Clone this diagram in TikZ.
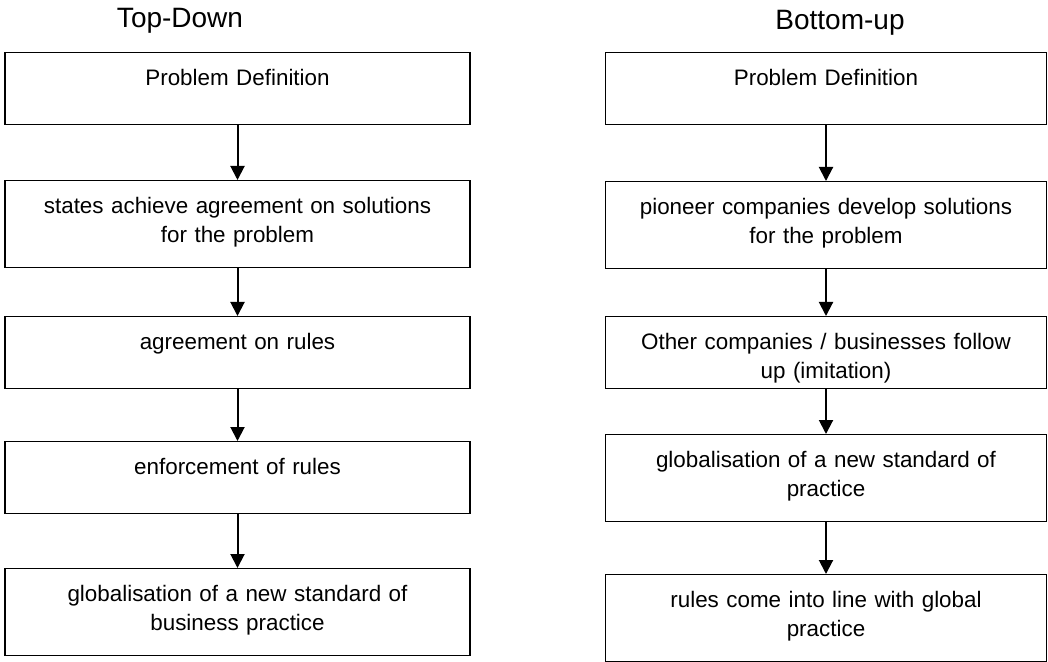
\documentclass[tikz,border=0pt]{standalone}
\usepackage{fontspec}
\setmainfont{Liberation Sans}
\usetikzlibrary{arrows.meta}

\begin{document}
\begin{tikzpicture}[x=0.5pt, y=-0.5pt,
    stage/.style={draw, line width=0.6pt, anchor=north, inner xsep=0pt, inner ysep=0pt,
      align=center, font=\fontsize{11.2}{14.5}\selectfont, text height=16.5pt, text depth=19.5pt},
    tallstage/.style={stage, text depth=27pt},
    leftcol/.style={text width=232.5pt},
    rightcol/.style={text width=220.5pt},
    flow/.style={-{Triangle[length=7pt, width=7pt]}, line width=1pt},
    heading/.style={anchor=base, font=\fontsize{14}{17}\selectfont}]
  \useasboundingbox (0,0) rectangle (1048,662);

  % top-down chain
  \node[heading] (td) at (180,28) {Top-Down};
  \node[stage, leftcol] (l1) at (237.5,52) {Problem Definition};
  \node[tallstage, leftcol] (l2) at (237.5,180) {states achieve agreement on solutions\\for the problem};
  \node[stage, leftcol] (l3) at (237.5,316) {agreement on rules};
  \node[stage, leftcol] (l4) at (237.5,441) {enforcement of rules};
  \node[tallstage, leftcol] (l5) at (237.5,568) {globalisation of a new standard of\\business practice};

  % bottom-up chain
  \node[heading] (bu) at (840,30) {Bottom-up};
  \node[stage, rightcol] (r1) at (826,52) {Problem Definition};
  \node[tallstage, rightcol] (r2) at (826,181) {pioneer companies develop solutions\\for the problem};
  \node[stage, rightcol] (r3) at (826,316) {Other companies / businesses follow\\up (imitation)};
  \node[tallstage, rightcol] (r4) at (826,434) {globalisation of a new standard of\\practice};
  \node[tallstage, rightcol] (r5) at (826,574) {rules come into line with global\\practice};

  \foreach \a/\b in {l1/l2, l2/l3, l3/l4, l4/l5, r1/r2, r2/r3, r3/r4, r4/r5}
    \draw[flow] (\a) -- (\b);
\end{tikzpicture}
\end{document}
